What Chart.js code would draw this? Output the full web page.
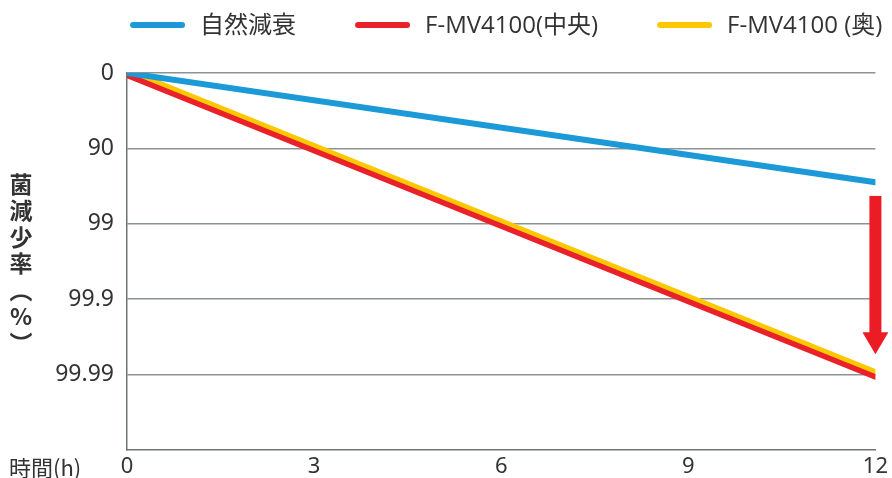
<!DOCTYPE html>
<html>
<head>
<meta charset="utf-8">
<script src="https://cdn.jsdelivr.net/npm/chart.js@4.4.1/dist/chart.umd.min.js"></script>
<style>
html,body{margin:0;padding:0;background:#fff;}
#wrap{width:892px;height:478px;position:relative;}
</style>
</head>
<body>
<div id="wrap"><canvas id="c" width="892" height="478"></canvas></div>
<script>
// ---- data ----
const hours = [0, 12];
const xTicks = [0, 3, 6, 9, 12];
const yTickLabels = ['0', '90', '99', '99.9', '99.99'];   // log-reduction steps 0..4
const seriesNames = ['自然減衰', 'F-MV4100(中央)', 'F-MV4100 (奥)'];
const naturalDecay = [0, 1.45];
const fmvCenter = [0.03, 4.03];
const fmvBack = [-0.035, 3.965];
const arrowRange = [1.63, 3.73];   // annotation arrow at last hour, in log-reduction units
const yAxisTitle = ['菌', '減', '少', '率', '︵', '%', '︶'];
const xAxisTitle = '時間(h)';

const colors = ['#1b9ad7', '#e8212a', '#fec800'];
const textColor = '#333333';
const fontFam = "'Noto Sans', 'Noto Sans CJK JP', sans-serif";

function pts(vals){ return hours.map((h,i)=>({x:h, y:vals[i]})); }

const extras = {
  id: 'extras',
  afterDraw(chart){
    const ctx = chart.ctx, ca = chart.chartArea;
    const xs = chart.scales.x, ys = chart.scales.y;
    ctx.save();
    // custom legend
    ctx.font = "24px 'Open Sans', 'Noto Sans CJK JP', sans-serif";
    ctx.textBaseline = 'middle';
    const lineW = 55, gap = 15, itemGap = 59;
    const widths = seriesNames.map(n => lineW + gap + ctx.measureText(n).width);
    const total = widths.reduce((a,b)=>a+b,0) + itemGap*(widths.length-1);
    let x = (ca.left + ca.right)/2 - total/2 + 5;
    const ly = 25;
    seriesNames.forEach((n,i)=>{
      ctx.strokeStyle = colors[i];
      ctx.lineWidth = 6;
      ctx.lineCap = 'round';
      ctx.beginPath(); ctx.moveTo(x+3, ly); ctx.lineTo(x+lineW-3, ly); ctx.stroke();
      ctx.fillStyle = textColor;
      ctx.textAlign = 'left';
      ctx.fillText(n, x + lineW + gap, ly + 1);
      x += widths[i] + itemGap;
    });
    // y axis title (vertical)
    ctx.font = "bold 23px 'Noto Sans CJK JP', sans-serif";
    ctx.textAlign = 'center';
    const step = 26.5;
    const cy = (ca.top + ca.bottom)/2 + 2;
    const y0 = cy - step*(yAxisTitle.length-1)/2;
    yAxisTitle.forEach((ch,i)=>{
      ctx.fillText(ch, 21, y0 + i*step);
    });
    // x axis title
    ctx.font = "22px 'Noto Sans CJK JP', sans-serif";
    ctx.textAlign = 'left';
    ctx.fillText(xAxisTitle, 9, 468);
    // arrow annotation
    const ax = xs.getPixelForValue(hours[hours.length-1]);
    const yTop = ys.getPixelForValue(arrowRange[0]);
    const yTip = ys.getPixelForValue(arrowRange[1]);
    const headLen = 22, shaftW = 12, headW = 26;
    ctx.fillStyle = '#ec1c24';
    ctx.fillRect(ax - shaftW/2, yTop, shaftW, yTip - headLen - yTop + 1);
    ctx.beginPath();
    ctx.moveTo(ax - headW/2, yTip - headLen);
    ctx.lineTo(ax + headW/2, yTip - headLen);
    ctx.lineTo(ax, yTip);
    ctx.closePath(); ctx.fill();
    ctx.restore();
  }
};

new Chart(document.getElementById('c'), {
  type: 'line',
  data: {
    datasets: [
      {label: seriesNames[0], data: pts(naturalDecay), borderColor: colors[0], borderWidth: 6},
      {label: seriesNames[1], data: pts(fmvCenter), borderColor: colors[1], borderWidth: 5.5},
      {label: seriesNames[2], data: pts(fmvBack), borderColor: colors[2], borderWidth: 5.5}
    ].map(d => Object.assign(d, {pointRadius: 0, borderCapStyle: 'round', tension: 0, fill: false}))
  },
  options: {
    responsive: false,
    animation: false,
    layout: {padding: {left: 0, right: 15, top: 73, bottom: 0}},
    plugins: {legend: {display: false}, tooltip: {enabled: false}},
    scales: {
      x: {
        type: 'linear', min: 0, max: 12,
        afterBuildTicks: s => { s.ticks = xTicks.map(v => ({value: v})); },
        afterFit: s => { s.height = 28; },
        grid: {display: false, drawTicks: false},
        border: {display: true, color: '#6f7377', width: 1.5},
        ticks: {color: textColor, font: {size: 22, family: fontFam}, padding: 4, maxRotation: 0, autoSkip: false}
      },
      y: {
        type: 'linear', min: 0, max: 5, reverse: true,
        afterBuildTicks: s => { s.ticks = yTickLabels.map((t,i) => ({value: i})); },
        afterFit: s => { s.width = 127; },
        grid: {drawTicks: false, color: '#8d9297', lineWidth: 1.5},
        border: {display: true, color: '#6f7377', width: 1.5},
        ticks: {color: textColor, font: {size: 23, family: fontFam}, padding: 13,
                callback: (v) => yTickLabels[v] !== undefined ? yTickLabels[v] : ''}
      }
    }
  },
  plugins: [extras]
});
</script>
</body>
</html>
